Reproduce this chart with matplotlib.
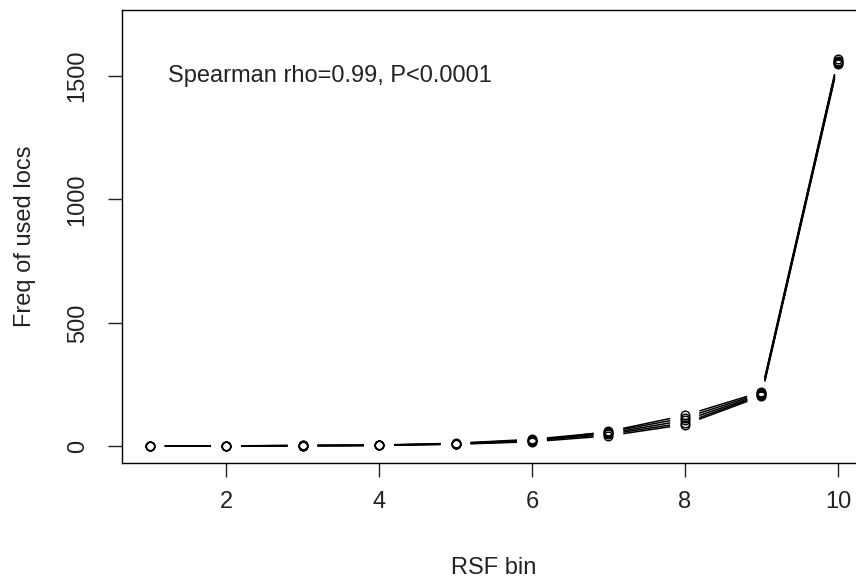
import numpy as np
import matplotlib
matplotlib.use('Agg')
import matplotlib.pyplot as plt

# RSF bins and used-location frequencies for each of the 5 folds
rsf_bin = [1, 2, 3, 4, 5, 6, 7, 8, 9, 10]
fold1 = [0, 0, 1, 3, 8, 18, 42, 88, 203, 1548]
fold2 = [0, 0, 2, 4, 10, 22, 48, 95, 207, 1553]
fold3 = [0, 1, 3, 4, 11, 25, 52, 105, 210, 1558]
fold4 = [0, 1, 4, 5, 12, 28, 57, 115, 215, 1563]
fold5 = [0, 0, 2, 3, 9, 20, 60, 125, 220, 1568]
folds = [fold1, fold2, fold3, fold4, fold5]

x_ticks = [2, 4, 6, 8, 10]
y_ticks = [0, 500, 1000, 1500]

plt.rcParams['font.family'] = ['Liberation Sans', 'DejaVu Sans']
fs = 17

W, H = 856, 582
fig = plt.figure(figsize=(W / 100, H / 100), dpi=100)
ax = fig.add_axes([122 / W, 1 - 463 / H, 743.5 / W, 453 / H])
ax.set_xlim(0.64, 10.36)
ax.set_ylim(-68, 1768)

# R type="b": segments stop short of the points
gap = 15  # px
inv = ax.transData.inverted()
for f in folds:
    pts = ax.transData.transform(np.column_stack([rsf_bin, f]))
    for p0, p1 in zip(pts[:-1], pts[1:]):
        d = p1 - p0
        L = np.hypot(*d)
        if L <= 2 * gap:
            continue
        u = d / L
        a = inv.transform(p0 + u * gap)
        b = inv.transform(p1 - u * gap)
        ax.plot([a[0], b[0]], [a[1], b[1]], color='black', lw=1.1,
                solid_capstyle='butt')
    ax.plot(rsf_bin, f, 'o', mfc='none', mec='black', ms=6.2, mew=1.0)

ax.set_xticks(x_ticks)
ax.set_yticks(y_ticks)
ax.set_yticklabels([str(v) for v in y_ticks], rotation=90, va='center')
ax.tick_params(length=10, width=1, labelsize=fs, colors='#222222')
ax.tick_params(axis='x', pad=10)
ax.tick_params(axis='y', pad=14)
for s in ax.spines.values():
    s.set_linewidth(1.0)
    s.set_color('black')

ax.set_xlabel('RSF bin', fontsize=fs, labelpad=32, color='#222222')
ax.set_ylabel('Freq of used locs', fontsize=fs, labelpad=22, color='#222222')

ax.text(1.24, 1500, 'Spearman rho=0.99, P<0.0001', fontsize=fs,
        ha='left', va='center', color='#222222')

fig.savefig('out.png', dpi=100)
